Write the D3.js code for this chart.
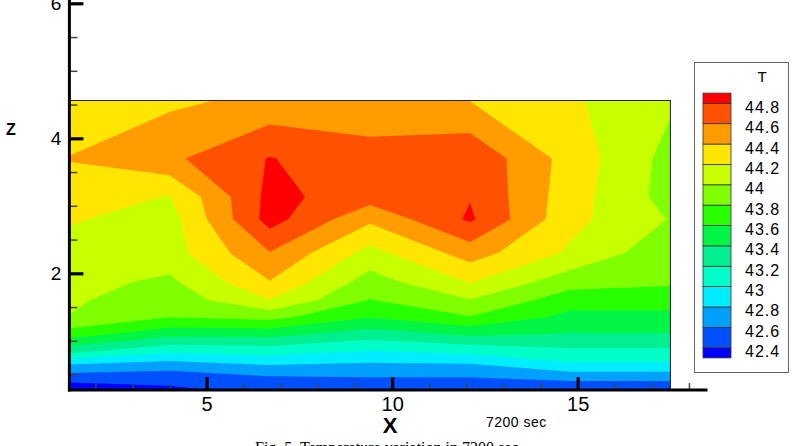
<!DOCTYPE html>
<html>
<head>
<meta charset="utf-8">
<script src="https://cdn.jsdelivr.net/npm/d3@7"></script>
<style>
  body { margin: 0; background: #fff; }
  svg { display: block; font-family: "Liberation Sans", Arial, sans-serif; }
</style>
</head>
<body>
<svg id="chart" width="802" height="446"></svg>
<script>
// measurement grid: x positions and z positions (top row first)
const xNodes = [1.3, 4.0, 6.7, 9.4, 12.1, 14.8, 17.5];
const zNodes = [4.56, 3.70, 3.13, 2.80, 2.30, 1.87, 1.60, 1.35, 1.10, 0.86, 0.64, 0.45, 0.27];

// temperature T at each node, one row per z
const tempRows = [
  [44.21, 44.36, 44.453, 44.50, 44.395, 44.23, 44.03],
  [44.41, 44.56, 44.81, 44.66, 44.76, 44.32, 43.93],
  [44.30, 44.19, 44.86, 44.69, 44.79, 44.29, 43.92],
  [44.22, 44.115, 44.88, 44.44, 44.83, 44.26, 43.99],
  [44.12, 44.11, 44.59, 44.13, 44.49, 44.17, 43.86],
  [44.07, 43.96, 44.39, 43.91, 44.21, 43.88, 43.83],
  [44.03, 43.88, 44.19, 43.79, 43.99, 43.69, 43.69],
  [43.995, 43.80, 43.86, 43.61, 43.79, 43.54, 43.54],
  [43.70, 43.47, 43.47, 43.30, 43.44, 43.39, 43.39],
  [43.30, 43.06, 43.10, 43.01, 43.08, 43.17, 43.17],
  [42.78, 42.70, 42.80, 42.76, 42.77, 42.96, 42.96],
  [42.49, 42.47, 42.57, 42.59, 42.59, 42.65, 42.65],
  [42.25, 42.36, 42.46, 42.46, 42.47, 42.45, 42.45]
];

// contour levels and band colours (lowest band first)
const levels = [42.4, 42.6, 42.8, 43.0, 43.2, 43.4, 43.6, 43.8, 44.0, 44.2, 44.4, 44.6, 44.8];
const bandColors = ["#0000ff", "#0050ff", "#00a0ff", "#00eeff", "#00ffc8", "#00f090", "#00f545",
                    "#28ff00", "#80ff00", "#c8ff00", "#ffe600", "#ff9d00", "#ff5200", "#ff0000"];

// axis ticks
const xMajor = [5, 10, 15];
const xMinor = [2, 3, 4, 6, 7, 8, 9, 11, 12, 13, 14, 16, 17, 18];
const zMajor = [2, 4, 6];
const zMinor = [0.5, 1, 1.5, 2.5, 3, 3.5, 4.5, 5, 5.5];

const svg = d3.select("#chart");

const x = d3.scaleLinear().domain([1.3, 18.5]).range([69.4, 707.5]);
const y = d3.scaleLinear().domain([0.27, 6]).range([390.1, 3.3]);

// contour bands from the grid
const nx = xNodes.length, nz = zNodes.length;
const contours = d3.contours()
  .size([nx, nz])
  .thresholds(levels)(tempRows.flat());

const gridX = d3.scaleLinear().domain(d3.range(nx)).range(xNodes).clamp(true);
const gridZ = d3.scaleLinear().domain(d3.range(nz)).range(zNodes).clamp(true);

const toPixel = d3.geoTransform({
  point(cx, cy) {
    this.stream.point(x(gridX(cx - 0.5)), y(gridZ(cy - 0.5)));
  }
});
const path = d3.geoPath(toPixel);

const x0 = x(xNodes[0]), x1 = x(xNodes[nx - 1]);
const yTop = y(zNodes[0]), yBot = y(zNodes[nz - 1]);

const plot = svg.append("g");

plot.append("rect")
  .attr("x", x0).attr("y", yTop)
  .attr("width", x1 - x0).attr("height", yBot - yTop)
  .attr("fill", bandColors[0]);

plot.selectAll("path.band")
  .data(contours)
  .join("path")
  .attr("class", "band")
  .attr("d", path)
  .attr("fill", (d, i) => bandColors[i + 1]);

plot.append("rect")
  .attr("x", x0).attr("y", yTop)
  .attr("width", x1 - x0).attr("height", yBot - yTop)
  .attr("fill", "none")
  .attr("stroke", "#222")
  .attr("stroke-width", 1);

// axes: ticks point inward
const yAxisG = svg.append("g").attr("transform", `translate(${x(1.3)},0)`);
yAxisG.call(d3.axisLeft(y).tickValues(zMinor).tickSizeInner(-8).tickSizeOuter(0).tickFormat(""));
yAxisG.selectAll(".tick line").attr("stroke", "#444").attr("stroke-width", 1.5);
const yMajorG = svg.append("g").attr("transform", `translate(${x(1.3)},0)`);
yMajorG.call(d3.axisLeft(y).tickValues(zMajor).tickSizeInner(-14).tickSizeOuter(0)
  .tickPadding(8).tickFormat(d3.format("d")));
yMajorG.selectAll(".tick line").attr("stroke", "#000").attr("stroke-width", 3.2);
yMajorG.selectAll(".tick text").attr("font-size", 19).attr("font-family", "Liberation Sans, Arial, sans-serif").attr("fill", "#000");

const xAxisG = svg.append("g").attr("transform", `translate(0,${y(0.27)})`);
xAxisG.call(d3.axisBottom(x).tickValues(xMinor).tickSizeInner(-7).tickSizeOuter(0).tickFormat(""));
xAxisG.selectAll(".tick line").attr("stroke", "#444").attr("stroke-width", 1.5);
const xMajorG = svg.append("g").attr("transform", `translate(0,${y(0.27)})`);
xMajorG.call(d3.axisBottom(x).tickValues(xMajor).tickSizeInner(-13).tickSizeOuter(0)
  .tickPadding(7).tickFormat(d3.format("d")));
xMajorG.selectAll(".tick line").attr("stroke", "#000").attr("stroke-width", 3.2);
xMajorG.selectAll(".tick text").attr("font-size", 20).attr("font-family", "Liberation Sans, Arial, sans-serif").attr("fill", "#000");

svg.selectAll(".domain").remove();

svg.append("line")
  .attr("x1", x(1.3)).attr("x2", x(1.3))
  .attr("y1", 0).attr("y2", y(0.27) + 1.5)
  .attr("stroke", "#000").attr("stroke-width", 3);
svg.append("line")
  .attr("x1", x(1.3) - 1.5).attr("x2", x(18.5))
  .attr("y1", y(0.27)).attr("y2", y(0.27))
  .attr("stroke", "#000").attr("stroke-width", 3);

// axis titles
svg.append("text")
  .attr("x", 11).attr("y", 135)
  .attr("text-anchor", "middle")
  .attr("font-size", 16).attr("font-weight", "bold")
  .text("Z");
svg.append("text")
  .attr("x", 390).attr("y", 433)
  .attr("text-anchor", "middle")
  .attr("font-size", 22).attr("font-weight", "bold")
  .text("X");
svg.append("text")
  .attr("x", 486).attr("y", 427)
  .attr("font-size", 14).attr("letter-spacing", 0.5)
  .text("7200 sec");

svg.append("text")
  .attr("x", 255).attr("y", 453)
  .attr("font-family", "Liberation Serif, Times New Roman, serif")
  .attr("font-size", 16)
  .text("Fig. 5. Temperature variation in 7200 sec");

// legend
const legend = svg.append("g");
legend.append("rect")
  .attr("x", 694.5).attr("y", 62.5)
  .attr("width", 94).attr("height", 310)
  .attr("fill", "#fff")
  .attr("stroke", "#666").attr("stroke-width", 1);
legend.append("text")
  .attr("x", 762).attr("y", 82)
  .attr("text-anchor", "middle")
  .attr("font-size", 15)
  .text("T");

const ly = d3.scaleLinear().domain([44.8, 42.4]).range([103.3, 347.7]);
const bandEdges = [42.3].concat(levels, [44.9]);

legend.selectAll("rect.swatch")
  .data(bandColors)
  .join("rect")
  .attr("class", "swatch")
  .attr("x", 703).attr("width", 28)
  .attr("y", (d, i) => ly(bandEdges[i + 1]))
  .attr("height", (d, i) => ly(bandEdges[i]) - ly(bandEdges[i + 1]))
  .attr("fill", d => d)
  .attr("stroke", "#333").attr("stroke-width", 0.8);

legend.selectAll("text.lab")
  .data(levels)
  .join("text")
  .attr("class", "lab")
  .attr("x", 745)
  .attr("y", d => ly(d) + 4)
  .attr("dominant-baseline", "central")
  .attr("font-size", 16).attr("letter-spacing", 1)
  .text(d => String(Math.round(d * 10) / 10));
</script>
</body>
</html>
